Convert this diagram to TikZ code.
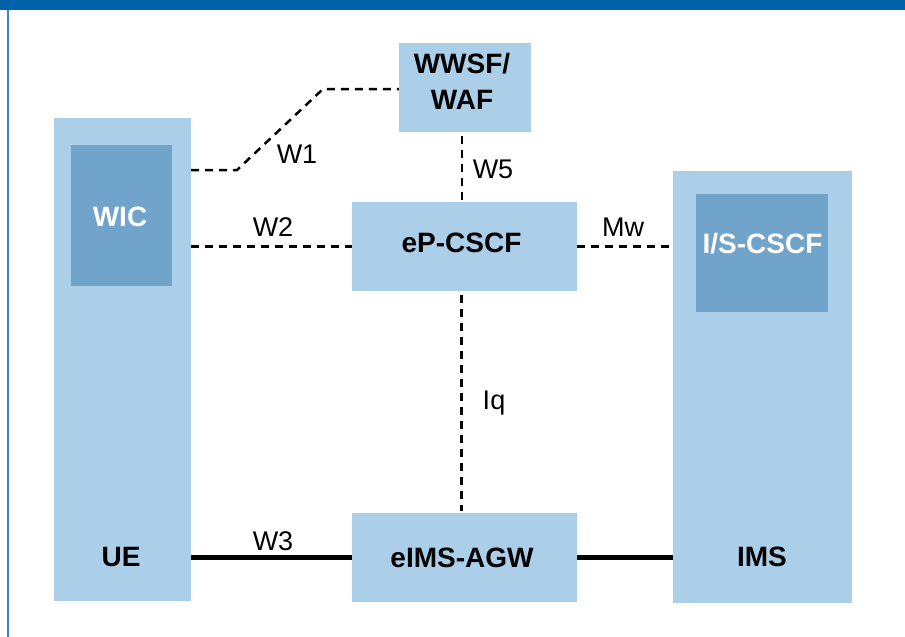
\documentclass[tikz,border=0pt]{standalone}
\usepackage{fontspec}
\setmainfont{Liberation Sans}
\definecolor{boxlight}{HTML}{ABCFE9}
\definecolor{boxdark}{HTML}{70A4CB}
\definecolor{barblue}{HTML}{0063A9}
\definecolor{frameblue}{HTML}{3A85C2}
\begin{document}
\begin{tikzpicture}[x=1pt,y=-1pt,
  blockbox/.style={fill=boxlight,draw=none,inner sep=0pt,outer sep=0pt},
  innerbox/.style={fill=boxdark,draw=none,inner sep=0pt,outer sep=0pt},
  boxtext/.style={anchor=base,inner sep=0pt,font=\fontsize{28}{34}\selectfont\bfseries},
  whitetext/.style={boxtext,text=white},
  iflabel/.style={anchor=base,inner sep=0pt,font=\fontsize{27}{32}\selectfont},
  iface/.style={draw=black,line width=2.5pt,dash pattern=on 8pt off 6pt},
  bearer/.style={draw=black,line width=4.5pt}]
  \useasboundingbox (0,0) rectangle (905,637);
  % frame: title bar and left rule
  \fill[barblue] (0,0) rectangle (905,10);
  \draw[frameblue,line width=1.5pt] (8,10) -- (8,637);

  % containers
  \node[blockbox,minimum width=137pt,minimum height=483pt] (ue) at (122.5,359.5) {};
  \node[innerbox,minimum width=101pt,minimum height=141pt] (wic) at (121.5,215.5) {};
  \node[blockbox,minimum width=179pt,minimum height=432pt] (ims) at (762.5,387) {};
  \node[innerbox,minimum width=132pt,minimum height=118pt] (iscscf) at (762,252.5) {};

  % functional entities
  \node[blockbox,minimum width=132pt,minimum height=89pt] (wwsf) at (464.8,87.5) {};
  \node[blockbox,minimum width=225pt,minimum height=89pt] (epcscf) at (464.5,246.5) {};
  \node[blockbox,minimum width=225pt,minimum height=89pt] (agw) at (464.5,557.5) {};

  % box texts
  \node[whitetext] (wictxt) at (120,226) {WIC};
  \node[whitetext] (isctxt) at (762.5,253.3) {I/S-CSCF};
  \node[boxtext] (uetxt) at (121,566) {UE};
  \node[boxtext] (imstxt) at (762,566) {IMS};
  \node[boxtext] (wwsftxt1) at (462,73.3) {WWSF/};
  \node[boxtext] (wwsftxt2) at (462,109.3) {WAF};
  \node[boxtext] (epctxt) at (461.5,252.3) {eP-CSCF};
  \node[boxtext] (agwtxt) at (462,567) {eIMS-AGW};

  % interfaces
  \coordinate (w1a) at (237,170);
  \coordinate (w1b) at (323,89);
  \draw[iface] (ue.east |- w1a) -- (w1a) -- (w1b) -- (wwsf.west |- w1b);
  \draw[iface] (ue.east |- epcscf.west) -- (epcscf.west);
  \draw[iface] (epcscf.east) -- (ims.west |- epcscf.east);
  \draw[iface,shorten <=4pt] ([xshift=-3pt]wwsf.south) -- ([xshift=-3pt]wwsf.south |- epcscf.north);
  \draw[iface,shorten <=4pt,shorten >=2pt] ([xshift=-3pt]epcscf.south) -- ([xshift=-3pt]epcscf.south |- agw.north);
  \draw[bearer] (ue.east |- agw.west) -- (agw.west);
  \draw[bearer] (agw.east) -- (ims.west |- agw.east);

  % interface labels
  \node[iflabel] (lw1) at (297,163.3) {W1};
  \node[iflabel] (lw5) at (493,178) {W5};
  \node[iflabel] (lw2) at (273,236.7) {W2};
  \node[iflabel] (lmw) at (623,236.7) {Mw};
  \node[iflabel] (liq) at (494,409) {Iq};
  \node[iflabel] (lw3) at (273,550) {W3};
\end{tikzpicture}
\end{document}
